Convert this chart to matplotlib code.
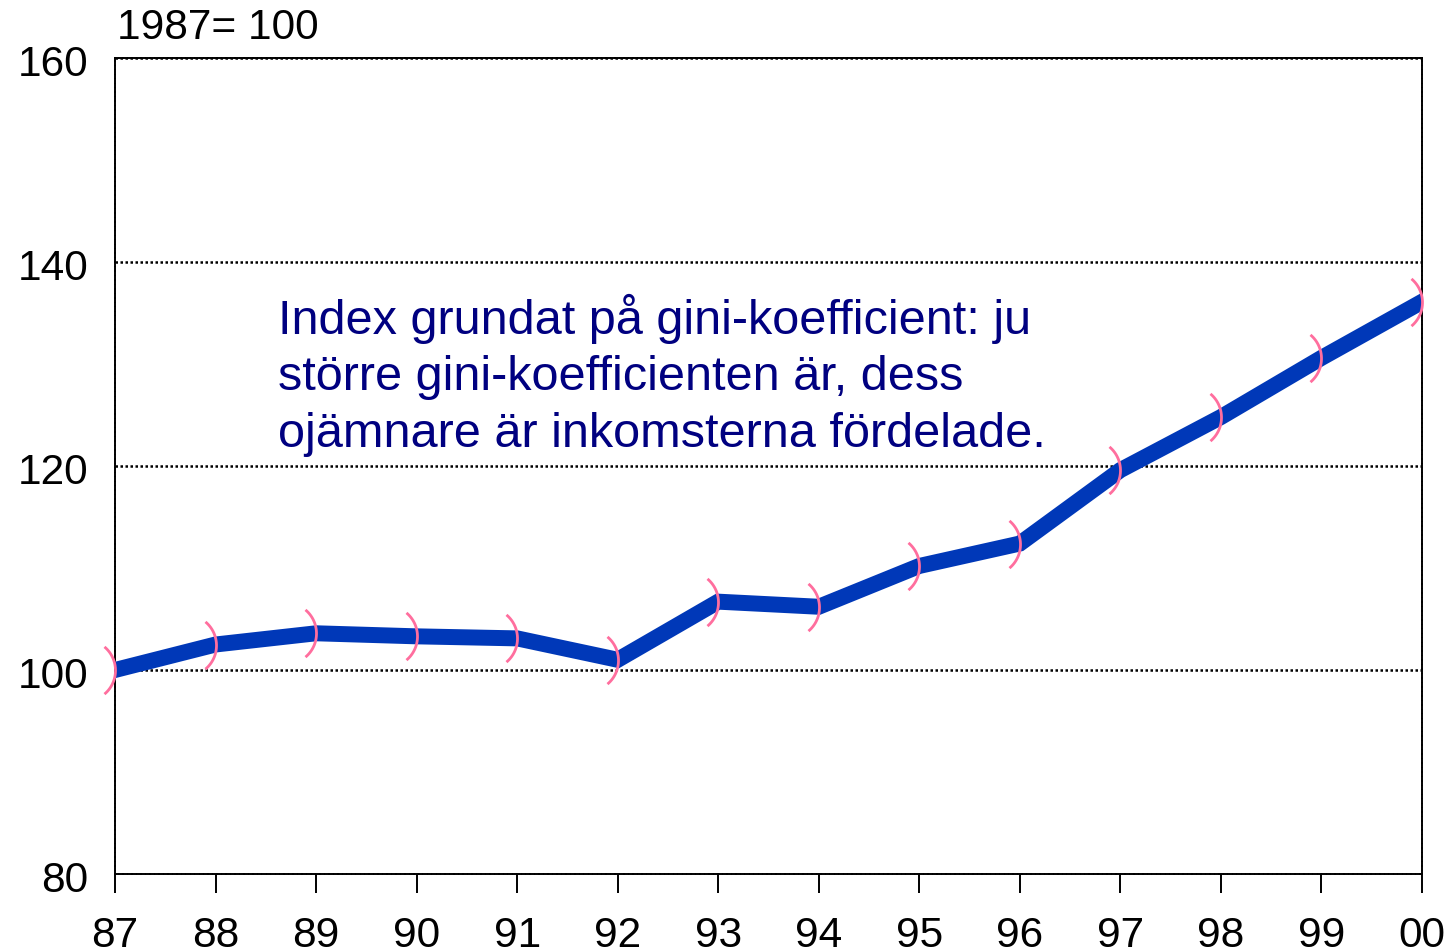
import matplotlib
matplotlib.use("Agg")
import matplotlib.pyplot as plt
import matplotlib.transforms as mtransforms
import numpy as np
from matplotlib.path import Path

years = [1987, 1988, 1989, 1990, 1991, 1992, 1993, 1994, 1995, 1996, 1997, 1998, 1999, 2000]
index_values = [100.0, 102.5, 103.6, 103.3, 103.1, 101.0, 106.7, 106.2, 110.2, 112.4, 119.6, 124.8, 130.6, 136.1]
x_labels = ["87", "88", "89", "90", "91", "92", "93", "94", "95", "96", "97", "98", "99", "00"]
y_ticks = [80, 100, 120, 140, 160]

plt.rcParams['font.family'] = ['Liberation Sans', 'DejaVu Sans']

fig = plt.figure(figsize=(14.5, 9.52), dpi=100)
ax = fig.add_axes([115/1450, 1 - 874/952, (1422-115)/1450, (874-58)/952])

# arc marker shaped like ")"
theta = np.linspace(np.radians(-50), np.radians(50), 30)
verts = np.column_stack([np.cos(theta) - 1.0, np.sin(theta)])
codes = [Path.MOVETO] + [Path.LINETO] * (len(verts) - 1)
arc = Path(verts, codes)

ax.plot(years, index_values, color='#0038B8', lw=11.5, solid_joinstyle='miter', zorder=3)
ax.plot(years, index_values, linestyle='none', marker=arc, markersize=34,
        markerfacecolor='none', markeredgecolor='#FF6E9E', markeredgewidth=2.0, zorder=4, clip_on=False)

ax.set_xlim(1987, 2000)
ax.set_ylim(80, 160)
ax.set_xticks(years)
ax.set_xticklabels(x_labels)
ax.set_yticks(y_ticks)

dot = (0, (1.0, 1.0))
for y in y_ticks[1:]:
    ax.axhline(y, color='black', lw=1.8, linestyle=dot, zorder=1)
for s in ax.spines.values():
    s.set_linestyle((0, (1.5, 0.8)))
    s.set_linewidth(1.4)
    s.set_color('black')

ax.tick_params(axis='x', direction='out', length=14, width=1.4, pad=16, labelsize=30.5)
ax.tick_params(axis='y', length=0, pad=19, labelsize=30.5)
for t in ax.xaxis.get_ticklines():
    t.set_linestyle(':')
offset = mtransforms.ScaledTranslation(0, -3/100, fig.dpi_scale_trans)
for lbl in ax.get_yticklabels():
    lbl.set_transform(lbl.get_transform() + offset)

ax.text(0.0015, 1.012, "1987= 100", transform=ax.transAxes, fontsize=30.5, ha='left', va='bottom')
ax.text(1988.62, 136.9, "Index grundat på gini-koefficient: ju\nstörre gini-koefficienten är, dess\nojämnare är inkomsterna fördelade.",
        fontsize=35, color='#000080', ha='left', va='top', linespacing=1.33)

fig.savefig("out.png", dpi=100)
